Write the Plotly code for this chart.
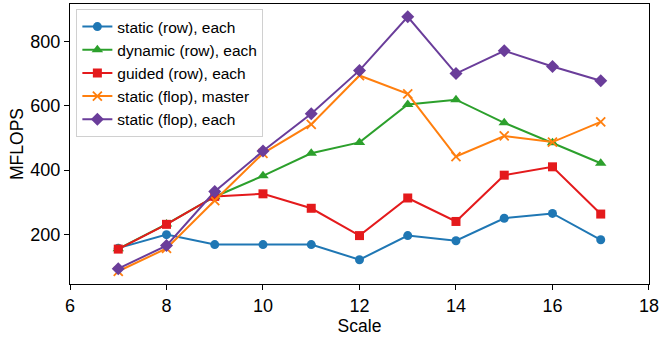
import plotly.graph_objects as go

scale = [7, 8, 9, 10, 11, 12, 13, 14, 15, 16, 17]

static_row_each = [157, 199, 168, 168, 168, 121, 196, 180, 250, 265, 183]
dynamic_row_each = [155, 232, 317, 382, 452, 486, 604, 619, 547, 485, 421]
guided_row_each = [154, 231, 318, 326, 281, 196, 313, 240, 384, 410, 263]
static_flop_master = [85, 156, 305, 452, 542, 694, 637, 442, 506, 487, 550]
static_flop_each = [93, 165, 333, 459, 575, 710, 877, 700, 771, 722, 678]

series = [
    ("static (row), each", static_row_each, "#1f77b4", "circle", 9),
    ("dynamic (row), each", dynamic_row_each, "#2ca02c", "triangle-up", 10),
    ("guided (row), each", guided_row_each, "#e41a1c", "square", 9),
    ("static (flop), master", static_flop_master, "#ff7f0e", "x-thin", 9),
    ("static (flop), each", static_flop_each, "#6a3d9a", "diamond", 10),
]

x_ticks = [6, 8, 10, 12, 14, 16, 18]
y_ticks = [200, 400, 600, 800]

fig = go.Figure()
for name, vals, color, symbol, size in series:
    marker = dict(symbol=symbol, size=size, color=color)
    if symbol == "x-thin":
        marker["line"] = dict(color=color, width=1.8)
    fig.add_trace(go.Scatter(
        x=scale, y=vals, name=name, mode="lines+markers",
        line=dict(color=color, width=2),
        marker=marker,
    ))

all_vals = [v for s in series for v in s[1]]
lo, hi = min(all_vals), max(all_vals)
pad = 0.05 * (hi - lo)

font_family = "Liberation Sans, Arial, sans-serif"
axis_common = dict(
    showline=True, mirror=True, linecolor="black", linewidth=1.2,
    ticks="outside", ticklen=5, tickwidth=1.2, tickcolor="black",
    showgrid=False, zeroline=False,
    tickfont=dict(family=font_family, size=18, color="black"),
)

fig.update_layout(
    width=662, height=338,
    margin=dict(l=70, r=10, t=3, b=54),
    paper_bgcolor="white", plot_bgcolor="white",
    font=dict(family=font_family, color="black"),
    xaxis=dict(
        range=[6, 18.0005], tickvals=x_ticks,
        title=dict(text="Scale", font=dict(size=17.5), standoff=0),
        **axis_common,
    ),
    yaxis=dict(
        range=[lo - pad, hi + pad], tickvals=y_ticks,
        title=dict(text="MFLOPS", font=dict(size=17.5), standoff=2),
        **axis_common,
    ),
    legend=dict(
        x=0.011, y=0.982, xanchor="left", yanchor="top",
        bgcolor="rgba(255,255,255,0.85)",
        bordercolor="#d0d0d0", borderwidth=1,
        font=dict(family=font_family, size=15.5, color="black"),
        tracegroupgap=0, itemwidth=30,
    ),
    showlegend=True,
)

fig.write_html("out.html")
